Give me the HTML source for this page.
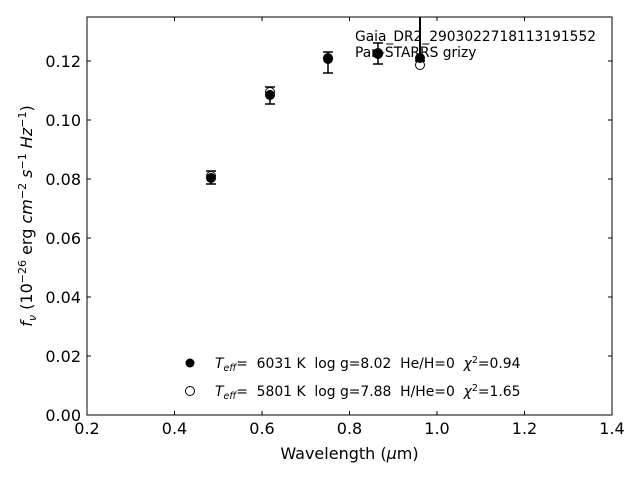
<!DOCTYPE html>
<html><head><style>body{margin:0;background:#fff}svg{display:block}text{font-family:"DejaVu Sans","Liberation Sans",sans-serif;white-space:pre}</style></head><body>
<svg width="640" height="480" xmlns="http://www.w3.org/2000/svg">
<rect x="87" y="17" width="525" height="398" fill="none" stroke="#000" stroke-width="1"/>
<g stroke="#000" stroke-width="1">
<line x1="87" y1="415" x2="87" y2="411"/><line x1="174.5" y1="415" x2="174.5" y2="411"/><line x1="262" y1="415" x2="262" y2="411"/><line x1="349.5" y1="415" x2="349.5" y2="411"/><line x1="437" y1="415" x2="437" y2="411"/><line x1="524.5" y1="415" x2="524.5" y2="411"/><line x1="612" y1="415" x2="612" y2="411"/>
<line x1="87" y1="17" x2="87" y2="21"/><line x1="174.5" y1="17" x2="174.5" y2="21"/><line x1="262" y1="17" x2="262" y2="21"/><line x1="349.5" y1="17" x2="349.5" y2="21"/><line x1="437" y1="17" x2="437" y2="21"/><line x1="524.5" y1="17" x2="524.5" y2="21"/>
<line x1="87" y1="356" x2="91" y2="356"/><line x1="87" y1="297" x2="91" y2="297"/><line x1="87" y1="238" x2="91" y2="238"/><line x1="87" y1="179" x2="91" y2="179"/><line x1="87" y1="120" x2="91" y2="120"/><line x1="87" y1="61" x2="91" y2="61"/>
<line x1="612" y1="356" x2="608" y2="356"/><line x1="612" y1="297" x2="608" y2="297"/><line x1="612" y1="238" x2="608" y2="238"/><line x1="612" y1="179" x2="608" y2="179"/><line x1="612" y1="120" x2="608" y2="120"/><line x1="612" y1="61" x2="608" y2="61"/>
</g>
<g font-size="16" text-anchor="middle">
<text x="87" y="434">0.2</text><text x="174.5" y="434">0.4</text><text x="262" y="434">0.6</text><text x="349.5" y="434">0.8</text><text x="437" y="434">1.0</text><text x="524.5" y="434">1.2</text><text x="612" y="434">1.4</text>
</g>
<g font-size="16" text-anchor="end">
<text x="81" y="421">0.00</text><text x="81" y="362">0.02</text><text x="81" y="303">0.04</text><text x="81" y="244">0.06</text><text x="81" y="185">0.08</text><text x="81" y="126">0.10</text><text x="81" y="67">0.12</text>
</g>
<text x="349.5" y="459" font-size="16" text-anchor="middle">Wavelength (<tspan font-style="italic">μ</tspan>m)</text>
<text transform="translate(32,216) rotate(-90)" font-size="16" text-anchor="middle"><tspan font-style="italic">f<tspan font-size="11" dy="4">ν</tspan></tspan><tspan dy="-4"> (10</tspan><tspan font-size="11" dy="-6">−26</tspan><tspan dy="6"> erg </tspan><tspan font-style="italic">cm</tspan><tspan font-size="11" dy="-6">−2</tspan><tspan dy="6" font-style="italic"> s</tspan><tspan font-size="11" dy="-6">−1</tspan><tspan dy="6" font-style="italic"> Hz</tspan><tspan font-size="11" dy="-6">−1</tspan><tspan dy="6">)</tspan></text>
<g stroke="#000" stroke-width="1.5" fill="none">
<line x1="211" y1="171" x2="211" y2="184"/><line x1="206" y1="171" x2="216" y2="171"/><line x1="206" y1="184" x2="216" y2="184"/>
<line x1="270" y1="87" x2="270" y2="104"/><line x1="265" y1="87" x2="275" y2="87"/><line x1="265" y1="104" x2="275" y2="104"/>
<line x1="328" y1="52" x2="328" y2="73"/><line x1="323" y1="52" x2="333" y2="52"/><line x1="323" y1="73" x2="333" y2="73"/>
<line x1="378" y1="43" x2="378" y2="64"/><line x1="373" y1="43" x2="383" y2="43"/><line x1="373" y1="64" x2="383" y2="64"/>
<line x1="420" y1="17" x2="420" y2="63" stroke-width="2"/><line x1="415" y1="61" x2="425" y2="61"/>
</g>
<g fill="#fff" stroke="#000" stroke-width="1">
<circle cx="211" cy="176" r="4.5"/><circle cx="270" cy="92" r="4.5"/><circle cx="328" cy="58" r="4.5"/><circle cx="378" cy="53" r="4.5"/><circle cx="420" cy="65" r="4.5"/>
</g>
<g fill="#000">
<circle cx="211" cy="178" r="5"/><circle cx="270" cy="95" r="5"/><circle cx="328" cy="59" r="5"/><circle cx="378" cy="54" r="5"/><circle cx="420" cy="58" r="5"/>
</g>
<text x="355" y="41" font-size="13.8">Gaia_DR2_2903022718113191552</text>
<text x="355" y="57" font-size="13.8">Pan-STARRS grizy</text>
<circle cx="190" cy="363" r="4.5" fill="#000"/>
<circle cx="190" cy="391" r="4.5" fill="#fff" stroke="#000"/>
<text x="215" y="368" font-size="13.9"><tspan font-style="italic">T<tspan font-size="9.5" dy="3">eff</tspan></tspan><tspan dy="-3">=  6031 K  log g=8.02  He/H=0  </tspan><tspan font-style="italic">χ</tspan><tspan font-size="9.5" dy="-5">2</tspan><tspan dy="5">=0.94</tspan></text>
<text x="215" y="396" font-size="13.9"><tspan font-style="italic">T<tspan font-size="9.5" dy="3">eff</tspan></tspan><tspan dy="-3">=  5801 K  log g=7.88  H/He=0  </tspan><tspan font-style="italic">χ</tspan><tspan font-size="9.5" dy="-5">2</tspan><tspan dy="5">=1.65</tspan></text>
</svg>
</body></html>
